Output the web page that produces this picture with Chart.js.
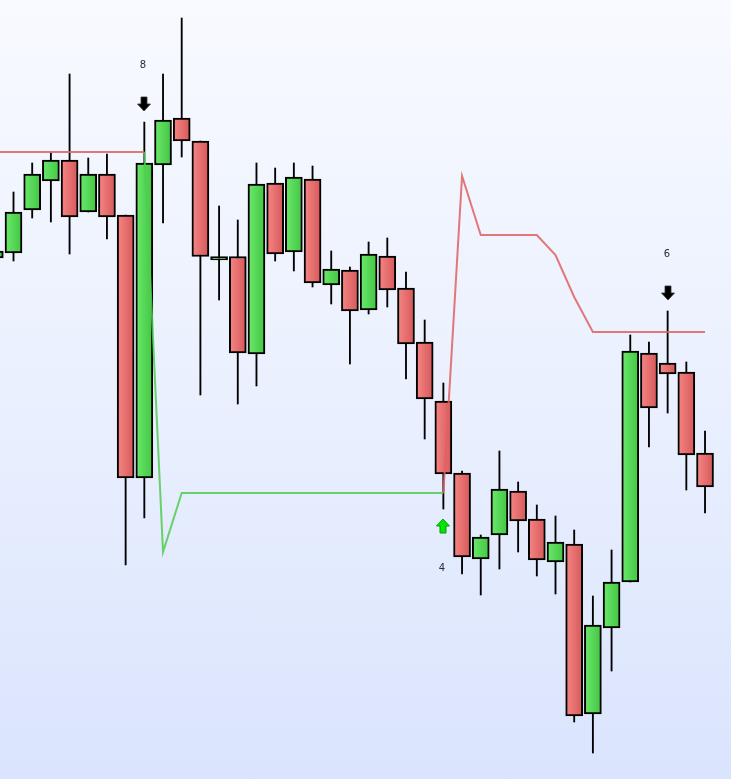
<!DOCTYPE html>
<html><head><meta charset="utf-8">
<script src="https://cdn.jsdelivr.net/npm/chart.js@4.4.1/dist/chart.umd.min.js"></script>
<style>
html,body{margin:0;padding:0;}
#wrap{width:731px;height:779px;background:linear-gradient(to bottom,#f8faff 0%,#eaf0fe 50%,#dae4fd 100%);}
canvas{display:block;}
</style></head><body>
<div id="wrap"><canvas id="c" width="731" height="779"></canvas></div>
<script>
const bars  = [-1,0,1,2,3,4,5,6,7,8,9,10,11,12,13,14,15,16,17,18,19,20,21,22,23,24,25,26,27,28,29,30,31,32,33,34,35,36,37];
const open  = [521,526,569,598,619,567,605,564,301,614,661,638,519,522.5,425,596,527,600,494,509,469,523,491,437,378,306,220,244,288,260,217,235,65,151,197,426,416,407,326];
const high  = [531,587,616,626,705,621,625,564,657,705,761,638,573,559,616,611,616,613,528,512,537,541,507,459,396,308,244,328,297,274,263,249,183,229,444,437,468,417,348];
const low   = [517,518,561,557,525,567,540,214,261,556,622,384,479,375,393,518,508,492,475,415,465,472,400,340,270,205,184,210,227,203,185,57,26,108,197,332,366,289,266];
const close = [528,567,605,619,562,605,562,301,616,659,638,522.5,522.5,426,595,525,602,496,510,468,525,489,435,380,305,222,242,290,258,219,237,63,154,197,428,371,405,324,292];
const upperStop = [627,627,627,627,627,627,627,627,627,null,null,null,null,null,null,null,null,null,null,null,null,null,null,null,286,603,544,544,544,544,524,482,447,447,447,447,447,447,447];
const lowerStop = [null,null,null,null,null,null,null,null,627,227,286,286,286,286,286,286,286,286,286,286,286,286,286,286,286,null,null,null,null,null,null,null,null,null,null,null,null,null,null];
const signalBar  = [7, 23, 35];
const signalDir  = ['down', 'up', 'down'];
const signalText = ['8', '4', '6'];

function bodyColor(ctx){
  if (ctx.type !== 'data') return '#e07070';
  const i = ctx.dataIndex;
  const up = close[i] >= open[i];
  const chart = ctx.chart;
  const xs = chart.scales && chart.scales.x;
  if (!xs || !xs.width) return up ? '#55d855' : '#e87070';
  const px = xs.getPixelForValue(bars[i]);
  const g = chart.ctx.createLinearGradient(px - 8, 0, px + 8, 0);
  if (up) { g.addColorStop(0, '#6ae86a'); g.addColorStop(1, '#44c644'); }
  else    { g.addColorStop(0, '#f68484'); g.addColorStop(1, '#d65a5a'); }
  return g;
}

const signalPlugin = {
  id: 'signals',
  afterDatasetsDraw(chart){
    const c = chart.ctx, xs = chart.scales.x, ys = chart.scales.y;
    c.save();
    signalBar.forEach((b, k) => {
      const i = bars.indexOf(b);
      const px = Math.round(xs.getPixelForValue(b));
      const down = signalDir[k] === 'down';
      const ext = ys.getPixelForValue(down ? high[i] : low[i]);
      const tip = down ? ext - 11 : ext + 10;
      const s = down ? -1 : 1;
      c.beginPath();
      c.moveTo(px, tip);
      c.lineTo(px + 6.5, tip + s * 7);
      c.lineTo(px + 3, tip + s * 7);
      c.lineTo(px + 3, tip + s * 14);
      c.lineTo(px - 3, tip + s * 14);
      c.lineTo(px - 3, tip + s * 7);
      c.lineTo(px - 6.5, tip + s * 7);
      c.closePath();
      if (down) { c.fillStyle = '#000'; c.fill(); c.strokeStyle = '#333'; c.lineWidth = 0.8; c.stroke(); }
      else { c.fillStyle = '#00e600'; c.fill(); c.strokeStyle = '#00a000'; c.lineWidth = 1; c.stroke(); }
      c.fillStyle = '#2a2a3a';
      c.font = '10px "DejaVu Sans", sans-serif';
      c.textAlign = 'center';
      c.textBaseline = 'middle';
      c.fillText(signalText[k], px - 1, down ? ext - 57 : ext + 59);
    });
    c.restore();
  }
};

new Chart(document.getElementById('c'), {
  type: 'bar',
  data: {
    datasets: [
      {
        type: 'line', label: 'upper stop', order: 0,
        data: bars.map((b, i) => ({x: b, y: upperStop[i]})),
        borderColor: 'rgba(224,96,96,0.85)', borderWidth: 2, pointRadius: 0, tension: 0, spanGaps: false, fill: false
      },
      {
        type: 'line', label: 'lower stop', order: 0,
        data: bars.map((b, i) => ({x: b, y: lowerStop[i]})),
        borderColor: 'rgba(80,204,80,0.85)', borderWidth: 2, pointRadius: 0, tension: 0, spanGaps: false, fill: false
      },
      {
        label: 'body', order: 1, grouped: false,
        data: bars.map((b, i) => ({x: b, y: [open[i], close[i]]})),
        backgroundColor: bodyColor, borderColor: '#000', borderWidth: 2, borderSkipped: false,
        barThickness: 17
      },
      {
        label: 'wick', order: 2, grouped: false,
        data: bars.map((b, i) => ({x: b, y: [low[i], high[i]]})),
        backgroundColor: '#000', borderWidth: 0, barThickness: 1.2
      }
    ]
  },
  options: {
    responsive: false, animation: false, devicePixelRatio: 1,
    layout: {padding: 0},
    plugins: {legend: {display: false}, tooltip: {enabled: false}},
    scales: {
      x: {type: 'linear', min: -0.7224, max: 38.39, offset: false, display: false, grid: {display: false}},
      y: {type: 'linear', min: 0, max: 779, display: false, grid: {display: false}}
    }
  },
  plugins: [signalPlugin]
});
</script>
</body></html>
